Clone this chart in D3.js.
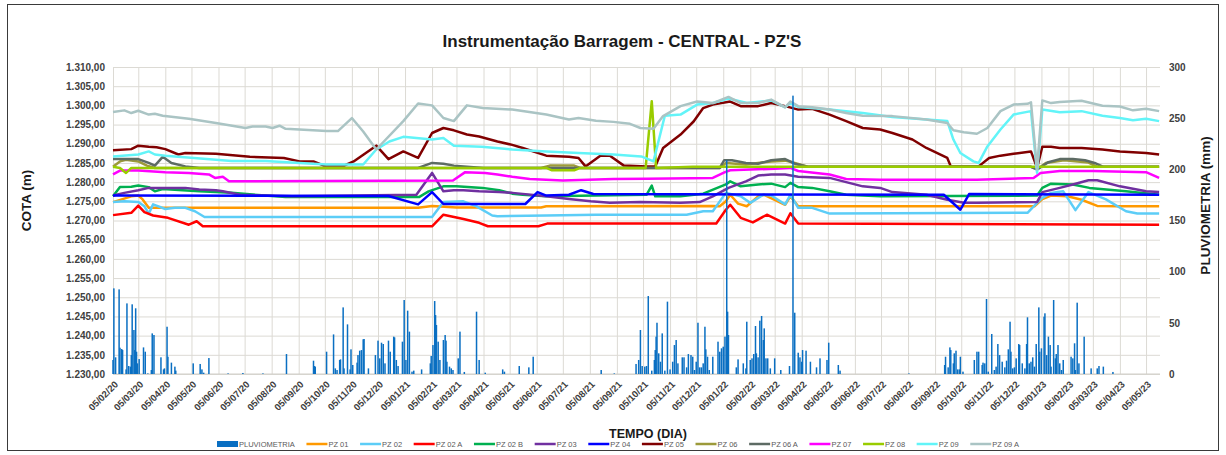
<!DOCTYPE html>
<html>
<head>
<meta charset="utf-8">
<script src="https://cdn.jsdelivr.net/npm/d3@7"></script>
<style>
  body { margin: 0; background: #fff; }
  svg { font-family: "Liberation Sans", Arial, sans-serif; }
  .grid line { stroke: #dcdad4; }
  .grid .domain { display: none; }
  .tick-lbl text { fill: #404040; font-weight: bold; font-size: 10px; }
</style>
</head>
<body>
<svg width="1226" height="455"></svg>
<script>
const svg = d3.select('svg');
const width = +svg.attr('width');
const height = +svg.attr('height');

// ---- data ----
const pz01 = [['2020-02-05',1274.8],['2020-02-26',1276.3],['2020-03-05',1276.5],['2020-03-10',1275.5],['2020-03-17',1273.3],['2021-01-20',1273.3],['2021-02-05',1273.8],['2021-03-05',1273.4],['2021-06-10',1273.4],['2021-06-16',1273.7],['2021-12-24',1273.8],['2022-01-01',1273.7],['2022-01-08',1275.0],['2022-01-13',1276.7],['2022-01-22',1274.4],['2022-02-01',1273.7],['2022-02-14',1276.3],['2022-02-21',1276.7],['2022-03-17',1274.1],['2022-03-23',1276.3],['2022-04-01',1273.7],['2022-12-28',1273.7],['2023-01-06',1275.6],['2023-01-16',1276.5],['2023-02-04',1276.3],['2023-02-20',1275.4],['2023-03-10',1273.8],['2023-04-05',1273.7],['2023-05-20',1273.7]];
const pz02 = [['2020-02-05',1274.8],['2020-02-18',1275.0],['2020-03-05',1274.8],['2020-03-12',1273.7],['2020-03-17',1271.8],['2020-03-22',1274.2],['2020-04-05',1273.0],['2020-04-16',1273.3],['2020-04-28',1273.3],['2020-05-09',1272.4],['2020-05-20',1270.9],['2021-02-05',1270.9],['2021-02-18',1274.8],['2021-03-13',1275.0],['2021-03-28',1273.7],['2021-04-15',1271.3],['2021-04-21',1271.1],['2021-06-16',1271.3],['2021-08-12',1271.5],['2021-11-24',1271.5],['2021-12-13',1272.4],['2021-12-24',1272.4],['2022-01-08',1277.2],['2022-01-25',1276.3],['2022-02-05',1274.6],['2022-02-20',1276.7],['2022-03-01',1276.5],['2022-03-17',1274.2],['2022-03-23',1276.7],['2022-04-01',1273.3],['2022-04-17',1273.3],['2022-05-07',1271.8],['2022-12-20',1272.0],['2022-12-31',1274.6],['2023-01-06',1275.9],['2023-01-16',1277.2],['2023-01-30',1277.6],['2023-02-13',1272.7],['2023-02-28',1277.4],['2023-03-20',1275.5],['2023-04-12',1272.4],['2023-04-25',1271.8],['2023-05-20',1271.8]];
const pz02a = [['2020-02-05',1271.4],['2020-02-26',1272.0],['2020-03-05',1273.9],['2020-03-12',1272.2],['2020-03-22',1271.3],['2020-04-08',1270.7],['2020-05-02',1268.9],['2020-05-11',1269.8],['2020-05-18',1268.5],['2021-02-05',1268.5],['2021-02-18',1271.5],['2021-03-13',1270.4],['2021-03-31',1269.4],['2021-04-10',1268.5],['2021-06-07',1268.5],['2021-06-17',1269.2],['2021-12-28',1269.2],['2022-01-08',1272.8],['2022-01-13',1274.1],['2022-01-25',1270.7],['2022-02-08',1269.5],['2022-02-24',1271.5],['2022-03-17',1269.2],['2022-03-23',1271.9],['2022-04-01',1269.2],['2023-05-20',1268.9]];
const pz02b = [['2020-02-05',1276.3],['2020-02-13',1278.7],['2020-02-26',1278.8],['2020-03-05',1279.1],['2020-03-17',1278.7],['2020-03-24',1277.6],['2020-04-02',1278.2],['2020-04-25',1277.9],['2020-05-14',1277.6],['2020-06-20',1277.2],['2020-07-29',1276.5],['2020-08-21',1276.1],['2021-01-21',1276.1],['2021-02-01',1277.6],['2021-02-18',1278.9],['2021-03-05',1278.9],['2021-04-04',1278.5],['2021-04-23',1277.9],['2021-05-08',1277.0],['2021-05-20',1276.7],['2021-06-16',1276.3],['2021-10-09',1276.7],['2021-10-15',1279.1],['2021-10-19',1276.3],['2021-11-17',1276.3],['2021-12-13',1277.0],['2022-01-08',1279.4],['2022-01-13',1280.2],['2022-01-25',1278.9],['2022-02-14',1279.4],['2022-03-01',1279.6],['2022-03-17',1278.7],['2022-03-23',1279.8],['2022-04-01',1278.7],['2022-04-17',1278.5],['2022-05-07',1277.6],['2022-05-26',1276.7],['2022-06-14',1276.5],['2022-07-04',1276.3],['2022-12-31',1276.5],['2023-01-06',1278.5],['2023-01-16',1279.6],['2023-02-10',1279.4],['2023-03-01',1278.5],['2023-04-12',1277.6],['2023-05-20',1276.7]];
const pz03 = [['2020-02-05',1276.5],['2020-02-18',1277.2],['2020-03-05',1277.9],['2020-03-17',1278.5],['2020-04-05',1278.5],['2020-04-28',1278.5],['2020-05-14',1278.1],['2020-06-02',1277.9],['2020-06-10',1277.6],['2020-06-30',1276.7],['2020-07-29',1276.5],['2020-08-28',1276.3],['2021-01-18',1276.7],['2021-02-05',1282.4],['2021-02-18',1277.6],['2021-03-02',1277.9],['2021-03-13',1277.9],['2021-03-31',1277.6],['2021-04-23',1277.4],['2021-05-08',1277.2],['2021-06-16',1276.3],['2021-07-12',1275.6],['2021-08-06',1275.0],['2021-08-28',1274.6],['2021-10-02',1274.8],['2021-11-17',1274.6],['2021-12-09',1274.8],['2021-12-24',1276.3],['2022-01-11',1278.5],['2022-01-31',1280.2],['2022-02-14',1281.7],['2022-03-01',1282.0],['2022-03-17',1282.0],['2022-04-01',1281.4],['2022-05-07',1281.1],['2022-05-26',1280.0],['2022-06-14',1278.9],['2022-07-04',1278.5],['2022-07-18',1277.4],['2022-08-26',1276.7],['2022-09-19',1275.4],['2022-10-08',1274.6],['2022-10-23',1274.6],['2022-12-31',1274.8],['2023-01-06',1277.4],['2023-01-26',1278.5],['2023-02-10',1279.4],['2023-02-28',1280.5],['2023-03-10',1280.5],['2023-04-05',1278.9],['2023-05-05',1277.6],['2023-05-20',1277.4]];
const pz04 = [['2020-02-05',1276.5],['2020-12-17',1276.4],['2021-01-20',1274.2],['2021-02-05',1277.4],['2021-02-18',1274.3],['2021-05-23',1274.3],['2021-06-06',1277.4],['2021-06-16',1276.5],['2021-07-12',1276.7],['2021-07-26',1277.9],['2021-08-09',1276.9],['2022-09-15',1276.7],['2022-10-04',1272.8],['2022-10-14',1276.9],['2023-05-20',1276.7]];
const pz05 = [['2020-02-05',1288.3],['2020-02-26',1288.6],['2020-03-05',1289.5],['2020-03-17',1289.2],['2020-03-26',1289.1],['2020-04-05',1288.6],['2020-04-20',1287.2],['2020-04-28',1287.6],['2020-06-02',1287.4],['2020-07-11',1286.6],['2020-08-19',1286.3],['2020-09-06',1285.4],['2020-09-22',1285.4],['2020-10-04',1284.3],['2020-10-27',1284.3],['2020-11-07',1285.4],['2020-12-03',1289.5],['2020-12-17',1286.0],['2021-01-03',1288.0],['2021-01-20',1286.3],['2021-02-05',1292.8],['2021-02-18',1294.1],['2021-03-02',1293.5],['2021-03-17',1292.4],['2021-03-31',1291.9],['2021-04-21',1290.6],['2021-05-08',1289.7],['2021-05-20',1288.9],['2021-06-16',1286.9],['2021-07-12',1286.6],['2021-07-23',1286.3],['2021-07-31',1284.1],['2021-08-17',1286.9],['2021-08-28',1286.9],['2021-09-13',1284.3],['2021-10-09',1284.1],['2021-10-19',1284.1],['2021-10-28',1288.9],['2021-11-17',1292.4],['2021-12-02',1295.8],['2021-12-13',1299.3],['2021-12-24',1300.2],['2022-01-13',1301.0],['2022-01-25',1299.8],['2022-02-14',1299.8],['2022-03-01',1300.6],['2022-03-17',1299.8],['2022-04-01',1298.9],['2022-04-17',1299.1],['2022-05-07',1297.6],['2022-05-26',1295.9],['2022-06-14',1294.1],['2022-07-04',1293.7],['2022-07-18',1292.8],['2022-08-10',1291.1],['2022-08-26',1288.9],['2022-09-19',1286.3],['2022-09-23',1284.1],['2022-10-25',1284.1],['2022-11-06',1286.3],['2022-11-19',1286.9],['2022-12-04',1287.4],['2022-12-24',1288.0],['2022-12-31',1283.7],['2023-01-06',1289.2],['2023-01-16',1289.2],['2023-01-26',1288.9],['2023-02-20',1288.9],['2023-03-16',1288.5],['2023-04-05',1288.0],['2023-05-05',1287.6],['2023-05-20',1287.2]];
const pz06 = [['2020-02-05',1284.0],['2020-02-13',1285.4],['2020-02-20',1285.8],['2020-03-05',1285.4],['2020-03-15',1284.3],['2020-03-24',1283.7],['2021-06-10',1283.7],['2021-06-20',1284.3],['2021-07-18',1284.3],['2021-07-25',1283.7],['2022-01-01',1283.7],['2022-01-08',1285.0],['2022-01-31',1284.6],['2022-03-01',1285.4],['2022-03-17',1285.6],['2022-03-23',1285.3],['2022-04-12',1284.0],['2022-12-24',1284.0],['2022-12-31',1283.3],['2023-01-10',1285.0],['2023-01-31',1285.7],['2023-02-28',1285.1],['2023-03-10',1284.0],['2023-05-20',1284.0]];
const pz06a = [['2020-02-05',1286.0],['2020-03-05',1286.0],['2020-03-17',1285.0],['2020-03-24',1284.3],['2020-04-02',1286.6],['2020-04-12',1285.0],['2020-04-28',1284.1],['2020-05-14',1283.7],['2021-01-20',1283.7],['2021-02-05',1285.0],['2021-02-18',1284.8],['2021-03-02',1284.3],['2021-03-17',1284.0],['2021-04-05',1283.7],['2022-01-01',1283.7],['2022-01-06',1285.7],['2022-01-15',1285.7],['2022-01-31',1285.0],['2022-02-14',1284.8],['2022-03-01',1285.7],['2022-03-17',1286.0],['2022-03-28',1284.8],['2022-04-12',1284.0],['2022-12-24',1284.0],['2022-12-31',1283.3],['2023-01-13',1285.2],['2023-01-26',1286.0],['2023-02-10',1286.0],['2023-02-24',1285.7],['2023-03-07',1285.0],['2023-03-17',1284.0],['2023-05-20',1284.0]];
const pz07 = [['2020-02-05',1282.0],['2020-02-13',1283.0],['2020-03-05',1283.0],['2020-04-05',1282.6],['2020-05-02',1282.4],['2020-05-25',1282.0],['2020-06-01',1281.1],['2020-06-10',1281.4],['2020-06-17',1280.2],['2021-03-01',1280.4],['2021-03-15',1282.6],['2021-04-07',1282.4],['2021-04-21',1282.0],['2021-05-08',1281.4],['2021-05-28',1280.8],['2021-07-05',1280.4],['2021-09-01',1280.8],['2021-10-09',1280.9],['2021-12-24',1281.1],['2022-01-07',1282.6],['2022-01-13',1283.1],['2022-03-05',1283.5],['2022-03-23',1283.7],['2022-04-01',1282.9],['2022-05-07',1282.0],['2022-05-26',1280.8],['2022-07-04',1280.6],['2022-10-23',1280.6],['2022-12-27',1281.1],['2023-01-04',1282.4],['2023-01-26',1282.9],['2023-03-05',1282.9],['2023-05-05',1282.6],['2023-05-20',1281.1]];
const pz08 = [['2020-02-05',1284.0],['2020-02-13',1283.7],['2020-02-20',1282.4],['2020-02-26',1283.7],['2021-06-16',1283.7],['2021-06-22',1283.1],['2021-07-18',1283.1],['2021-07-25',1283.7],['2021-10-08',1283.7],['2021-10-15',1301.1],['2021-10-20',1283.7],['2021-12-01',1284.0],['2023-05-20',1284.0]];
const pz09 = [['2020-02-05',1286.7],['2020-03-05',1287.2],['2020-03-17',1288.0],['2020-03-24',1287.2],['2020-04-05',1286.9],['2020-05-08',1286.3],['2020-06-20',1285.5],['2020-07-29',1285.5],['2020-09-06',1285.0],['2020-10-07',1284.6],['2020-11-18',1284.6],['2020-12-03',1288.5],['2020-12-18',1290.6],['2021-01-03',1291.8],['2021-02-05',1291.1],['2021-02-18',1291.5],['2021-03-02',1289.5],['2021-04-03',1289.2],['2021-05-08',1288.5],['2021-06-16',1288.0],['2021-07-23',1287.6],['2021-09-01',1287.2],['2021-10-03',1286.7],['2021-10-17',1285.4],['2021-10-30',1297.3],['2021-11-17',1297.6],['2021-12-06',1300.2],['2021-12-24',1300.6],['2022-01-11',1301.8],['2022-02-01',1300.6],['2022-03-01',1301.3],['2022-03-17',1299.5],['2022-03-23',1300.6],['2022-04-01',1299.6],['2022-05-07',1298.9],['2022-06-14',1298.0],['2022-07-18',1297.0],['2022-08-26',1296.3],['2022-09-19',1295.9],['2022-09-26',1291.1],['2022-10-04',1287.6],['2022-10-19',1285.4],['2022-10-25',1285.0],['2022-11-04',1289.3],['2022-11-19',1293.7],['2022-12-04',1297.6],['2022-12-24',1298.5],['2022-12-31',1282.4],['2023-01-06',1298.9],['2023-01-26',1298.2],['2023-02-20',1298.5],['2023-03-16',1297.3],['2023-04-05',1296.7],['2023-04-20',1296.1],['2023-05-05',1296.5],['2023-05-20',1295.9]];
const pz09a = [['2020-02-05',1298.3],['2020-02-18',1298.7],['2020-02-26',1298.0],['2020-03-05',1298.6],['2020-03-17',1297.6],['2020-03-24',1297.8],['2020-04-02',1297.3],['2020-05-02',1296.5],['2020-06-02',1295.4],['2020-07-06',1294.1],['2020-07-14',1294.5],['2020-07-29',1294.5],['2020-08-06',1294.1],['2020-08-14',1294.7],['2020-08-21',1293.9],['2020-10-07',1293.3],['2020-10-20',1293.3],['2020-11-05',1296.7],['2020-11-18',1293.2],['2020-12-03',1288.5],['2021-01-03',1295.9],['2021-01-20',1300.5],['2021-02-05',1300.0],['2021-02-18',1296.7],['2021-03-02',1295.9],['2021-03-17',1300.0],['2021-04-04',1299.3],['2021-05-08',1298.9],['2021-06-16',1297.6],['2021-07-12',1296.3],['2021-07-23',1296.7],['2021-08-12',1296.0],['2021-09-01',1295.7],['2021-09-20',1295.2],['2021-10-02',1294.1],['2021-10-17',1293.9],['2021-10-28',1297.2],['2021-11-17',1299.8],['2021-12-06',1301.0],['2021-12-24',1300.6],['2022-01-11',1302.2],['2022-01-25',1300.6],['2022-02-14',1300.6],['2022-03-01',1301.5],['2022-03-17',1299.5],['2022-03-23',1301.0],['2022-04-01',1299.8],['2022-04-17',1299.5],['2022-05-07',1298.9],['2022-05-26',1298.0],['2022-06-14',1297.3],['2022-07-18',1297.2],['2022-08-26',1296.3],['2022-09-19',1295.4],['2022-09-26',1293.5],['2022-10-08',1293.0],['2022-10-23',1292.6],['2022-11-04',1294.1],['2022-11-19',1298.5],['2022-12-04',1300.2],['2022-12-20',1300.4],['2022-12-24',1300.8],['2022-12-31',1283.3],['2023-01-06',1301.3],['2023-01-16',1300.6],['2023-01-26',1300.9],['2023-02-20',1301.2],['2023-03-16',1299.9],['2023-04-05',1299.7],['2023-04-20',1298.7],['2023-05-05',1299.1],['2023-05-20',1298.5]];

// rainfall: [days after rainStart, mm]
const rainStart = '2020-02-05';
const rain = [[0,13.7],[1,83.7],[3,16.3],[7,82.7],[8,25.7],[10,24.4],[11,23.4],[15,4.5],[16,69.0],[18,7.8],[20,7.2],[21,18.5],[22,68.1],[24,43.0],[25,23.4],[26,64.2],[27,21.8],[28,10.4],[30,14.6],[35,26.0],[37,21.8],[40,0.6],[44,3.9],[45,39.7],[47,38.1],[55,16.3],[58,4.5],[59,5.5],[62,46.2],[63,16.9],[67,11.1],[71,7.2],[72,3.3],
  [92,10.4],[100,9.8],[102,4.5],[104,1.3],[110,15.6],[132,0.6],[149,1.0],[172,0.6],[199,19.5],[230,13.0],[231,7.8],[232,7.2],[245,21.8],[253,38.7],[255,5.5],[257,3.9],[260,13.7],[261,14.3],[264,65.1],[265,5.5],[269,48.5],[272,4.5],[273,24.1],[275,8.8],
  [280,11.1],[281,18.5],[283,22.8],[285,23.4],[287,33.9],[288,34.2],[293,5.5],[301,18.5],[304,32.6],[306,15.3],[308,30.6],[310,29.3],[312,10.4],[316,32.6],[318,21.8],[322,36.5],[323,35.8],[325,13.7],[327,7.8],[332,31.6],[334,72.3],[336,13.7],[338,61.9],[340,41.4],[343,2.3],[345,3.3],[354,4.5],
  [364,10.4],[365,17.6],[367,28.3],[369,71.3],[370,57.6],[371,47.9],[373,31.6],[375,13.7],[379,33.2],[381,38.1],[382,32.6],[383,12.0],[386,7.2],[388,5.5],[390,3.9],[396,15.3],[398,41.4],[403,2.0],[417,60.9],[420,13.7],[427,1.3],[447,4.5],[449,2.3],[466,7.8],[477,6.5],[482,16.9],
  [560,3.9],[575,0.6],[600,9.8],[603,13.7],[605,43.0],[607,7.8],[610,7.2],[612,7.8],[614,76.2],[618,3.3],[621,13.7],[622,23.4],[623,36.5],[624,50.1],[626,20.2],[628,12.0],[630,39.7],[633,3.3],[636,70.7],[639,4.5],[642,12.0],[644,28.3],[646,33.2],[648,10.4],[653,16.3],[655,16.3],[658,6.5],[660,19.5],[663,18.5],[665,16.9],[667,3.9],[669,12.0],[671,50.1],[673,6.5],[675,6.5],[677,10.4],[679,46.2],[680,24.1],[682,16.9],[684,3.9],[688,16.9],
  [694,31.6],[696,21.8],[698,25.1],[700,26.7],[702,36.5],[704,209],[705,60.9],[706,38.1],[715,6.5],[717,14.3],[723,10.4],[726,5.5],[727,51.1],[731,13.7],[733,15.3],[735,19.5],[737,46.9],[738,20.2],[740,16.3],[742,52.1],[744,56.7],[746,33.2],[747,44.6],[749,15.3],[751,15.3],[754,5.5],[759,15.3],[766,3.9],[776,7.8],[780,272],[782,59.9],[786,20.8],[788,16.3],[790,12.0],[791,23.4],[795,22.8],[800,12.0],[807,6.5],[811,15.3],[819,13.7],[821,30.6],[832,8.8],[834,3.3],
  [913,0.6],[954,8.8],[955,16.9],[958,6.5],[960,26.0],[961,23.4],[964,10.4],[965,20.2],[967,22.8],[969,4.5],[971,4.5],[972,16.9],[975,2.3],[988,13.7],[991,21.8],[993,21.8],[997,8.8],[998,11.1],[1000,10.4],[1002,73.3],[1004,2.3],[1008,39.1],[1011,3.9],[1013,7.2],[1015,29.3],[1017,18.5],[1020,12.0],[1023,6.5],[1025,13.0],[1027,24.1],[1029,51.1],[1030,21.8],[1032,5.5],[1034,6.5],[1036,15.3],[1039,29.3],[1040,28.3],[1043,10.4],[1046,5.5],[1048,29.3],[1049,55.4],[1051,10.4],[1053,12.0],[1055,16.3],[1057,7.2],[1059,29.3],[1062,65.1],[1063,21.8],[1065,25.1],[1068,56.0],[1069,59.3],[1071,18.5],[1073,36.5],[1075,28.3],[1076,7.2],[1079,72.3],[1081,15.3],[1082,19.5],[1084,28.3],[1086,10.4],[1088,3.9],[1090,13.7],[1099,16.9],[1101,15.3],[1103,30.0],[1104,3.9],[1106,69.7],[1108,10.4],[1114,36.5],[1122,5.5],[1129,5.5],[1131,7.8],[1136,7.2],[1147,2.0]];

const seriesNames = ['PZ 01','PZ 02','PZ 02 A','PZ 02 B','PZ 03','PZ 04','PZ 05','PZ 06','PZ 06 A','PZ 07','PZ 08','PZ 09','PZ 09 A'];
const seriesData = [pz01, pz02, pz02a, pz02b, pz03, pz04, pz05, pz06, pz06a, pz07, pz08, pz09, pz09a];
const seriesColors = ['#ff9900','#5ccdf7','#ff0000','#00b050','#7030a0','#0000ff','#800000','#9c9a3a','#5d6b64','#ff00ff','#99cc00','#62f4f8','#aac4c4'];

const cotaDomain = [1230, 1310];
const pluvDomain = [0, 300];
const dateDomain = ['2020-02-05', '2023-05-21'];

// ---- layout ----
const margin = { left: 113, top: 67, right: 66, bottom: 81 };
const innerWidth = width - margin.left - margin.right;
const innerHeight = height - margin.top - margin.bottom;
const parse = d3.timeParse('%Y-%m-%d');
const ptBR = d3.formatLocale({ decimal: ',', thousands: '.', grouping: [3], currency: ['R$', ''] });

const xScale = d3.scaleTime().domain(dateDomain.map(parse)).range([0, innerWidth]);
const yScale = d3.scaleLinear().domain(cotaDomain).range([innerHeight, 0]);
const y2Scale = d3.scaleLinear().domain(pluvDomain).range([innerHeight, 0]);

// monthly ticks on the 5th, like the source chart
const monthTicks = d3.timeMonth.range(new Date(2020, 1, 1), new Date(2023, 4, 2)).map(d => d3.timeDay.offset(d, 4));

// chart frame
svg.append('rect')
  .attr('x', 7.5).attr('y', 4.5)
  .attr('width', width - 15).attr('height', height - 9)
  .attr('fill', 'none').attr('stroke', '#3a3a3a');

const g = svg.append('g').attr('transform', `translate(${margin.left},${margin.top})`);

// grid
g.append('g').attr('class', 'grid')
  .call(d3.axisLeft(yScale).tickValues(d3.range(1230, 1311, 5)).tickSize(-innerWidth).tickFormat(''));
g.append('g').attr('class', 'grid')
  .attr('transform', `translate(0,${innerHeight})`)
  .call(d3.axisBottom(xScale).tickValues(monthTicks).tickSize(-innerHeight).tickFormat(''));
g.append('line')
  .attr('x1', 0).attr('x2', innerWidth)
  .attr('y1', innerHeight).attr('y2', innerHeight)
  .attr('stroke', '#d0cec8');

// left axis labels
const yAxisG = g.append('g').attr('class', 'tick-lbl')
  .call(d3.axisLeft(yScale).tickValues(d3.range(1230, 1311, 5)).tickSize(0).tickPadding(8).tickFormat(ptBR.format(',.2f')));
yAxisG.select('.domain').remove();

// right axis labels
const y2AxisG = g.append('g').attr('class', 'tick-lbl')
  .attr('transform', `translate(${innerWidth},0)`)
  .call(d3.axisRight(y2Scale).tickValues(d3.range(0, 301, 50)).tickSize(0).tickPadding(9));
y2AxisG.select('.domain').remove();

// bottom axis labels
const xAxisG = g.append('g')
  .attr('transform', `translate(0,${innerHeight})`)
  .call(d3.axisBottom(xScale).tickValues(monthTicks).tickSize(0).tickFormat(d3.timeFormat('%d/%m/%y')));
xAxisG.select('.domain').remove();
xAxisG.selectAll('text')
  .attr('fill', '#404040')
  .style('font-weight', 'bold')
  .style('font-size', '9.5px')
  .attr('text-anchor', 'end')
  .attr('dy', 0)
  .attr('transform', 'translate(3,9) rotate(-45)');

// lines
const line = d3.line()
  .x(d => xScale(parse(d[0])))
  .y(d => yScale(d[1]));

g.selectAll('path.serie').data(seriesData)
  .enter().append('path')
    .attr('class', 'serie')
    .attr('fill', 'none')
    .attr('stroke', (d, i) => seriesColors[i])
    .attr('stroke-width', 2.5)
    .attr('stroke-linejoin', 'round')
    .attr('d', line);

// rainfall bars (secondary axis)
const start = parse(rainStart);
g.selectAll('rect.rain').data(rain)
  .enter().append('rect')
    .attr('class', 'rain')
    .attr('x', d => xScale(d3.timeDay.offset(start, d[0])) - 0.75)
    .attr('y', d => y2Scale(d[1]))
    .attr('width', 1.5)
    .attr('height', d => innerHeight - y2Scale(d[1]))
    .attr('fill', '#0a6fc2');

// titles
svg.append('text')
  .attr('x', 622).attr('y', 47)
  .attr('text-anchor', 'middle')
  .style('font-size', '17px').style('font-weight', 'bold')
  .attr('fill', '#1a1a1a')
  .text("Instrumentação Barragem - CENTRAL - PZ'S");

svg.append('text')
  .attr('transform', `translate(31,${margin.top + innerHeight / 2 - 20}) rotate(-90)`)
  .attr('text-anchor', 'middle')
  .style('font-size', '13.5px').style('font-weight', 'bold')
  .attr('fill', '#1a1a1a')
  .text('COTA (m)');

svg.append('text')
  .attr('transform', `translate(1210,${margin.top + innerHeight / 2 - 15}) rotate(-90)`)
  .attr('text-anchor', 'middle')
  .style('font-size', '13.5px').style('font-weight', 'bold')
  .attr('fill', '#1a1a1a')
  .text('PLUVIOMETRIA (mm)');

svg.append('text')
  .attr('x', 648).attr('y', 438)
  .attr('text-anchor', 'middle')
  .style('font-size', '12.5px').style('font-weight', 'bold')
  .attr('fill', '#1a1a1a')
  .text('TEMPO (DIA)');

// legend
const legend = svg.append('g').attr('transform', 'translate(217,444)');
const legendItems = [{ name: 'PLUVIOMETRIA', color: '#0a6fc2', bar: true }]
  .concat(seriesNames.map((n, i) => ({ name: n, color: seriesColors[i], bar: false })));
let lx = 0;
legendItems.forEach(it => {
  const item = legend.append('g').attr('transform', `translate(${lx},0)`);
  if (it.bar) {
    item.append('rect').attr('x', 0).attr('y', -3).attr('width', 21).attr('height', 6).attr('fill', it.color);
  } else {
    item.append('line').attr('x1', 0).attr('x2', 21).attr('y1', 0).attr('y2', 0)
      .attr('stroke', it.color).attr('stroke-width', 2.5);
  }
  const t = item.append('text')
    .attr('x', 22).attr('y', 2.7)
    .style('font-size', '7.5px')
    .attr('fill', '#595959')
    .text(it.name);
  lx += 22 + t.node().getComputedTextLength() + 11.6;
});
</script>
</body>
</html>
